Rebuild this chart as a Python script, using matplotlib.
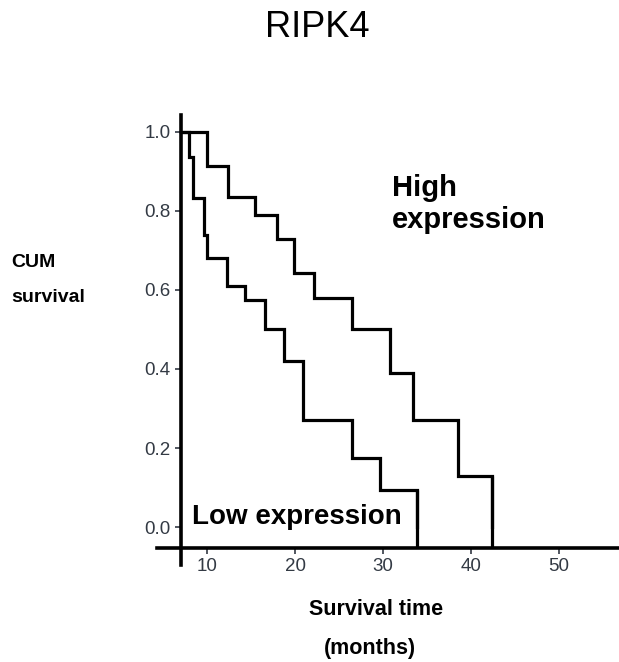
import matplotlib.pyplot as plt

plt.rcParams["font.family"] = ["Liberation Sans", "DejaVu Sans"]

# Kaplan-Meier steps
high_time = [7, 10, 12.4, 15.5, 18, 19.9, 22.2, 26.5, 30.8, 33.4, 38.5, 42.4]
high_surv = [1.0, 0.915, 0.835, 0.79, 0.73, 0.643, 0.58, 0.50, 0.39, 0.27, 0.13, 0.0]
low_time = [7, 8.0, 8.4, 9.7, 10, 12.3, 14.3, 16.6, 18.8, 20.9, 26.5, 29.7, 33.8]
low_surv = [1.0, 0.937, 0.834, 0.74, 0.68, 0.61, 0.575, 0.50, 0.42, 0.27, 0.175, 0.094, 0.0]

xticks = [10, 20, 30, 40, 50]
yticks = [0.0, 0.2, 0.4, 0.6, 0.8, 1.0]

fig = plt.figure(figsize=(6.19, 6.62), dpi=100)
ax = fig.add_axes([0.2536, 0.1465, 0.7464, 0.6798])

axis_y = -0.053
axis_x = 7

for t, s in [(high_time, high_surv), (low_time, low_surv)]:
    ax.step(t, s, where="post", color="black", lw=2.3, solid_joinstyle="miter")
    ax.vlines(t[-1], axis_y, s[-2], color="black", lw=2.3)

ax.set_xlim(4.32, 56.8)
ax.set_ylim(-0.0962, 1.043)

for side in ["top", "right"]:
    ax.spines[side].set_visible(False)
ax.spines["left"].set_position(("data", axis_x))
ax.spines["bottom"].set_position(("data", axis_y))
ax.spines["left"].set_linewidth(2.6)
ax.spines["bottom"].set_linewidth(2.6)

ax.set_xticks(xticks)
ax.set_yticks(yticks)
ax.set_yticklabels([f"{v:.1f}" for v in yticks])
ax.tick_params(axis="both", length=4, width=1.2, color="#333a44",
               labelsize=13.5, labelcolor="#333a44", pad=3)

ax.text(31.0, 0.818, "High\nexpression", fontsize=21, fontweight="bold",
        ha="left", va="center", linespacing=1.2)
ax.text(8.3, 0.026, "Low expression", fontsize=20, fontweight="bold",
        ha="left", va="center")

fig.text(0.512, 0.959, "RIPK4", fontsize=26, ha="center", va="center")
fig.text(0.018, 0.577, "CUM\nsurvival", fontsize=14, fontweight="bold",
         ha="left", va="center", linespacing=2.35)
fig.text(0.607, 0.079, "Survival time", fontsize=15.5, fontweight="bold",
         ha="center", va="center")
fig.text(0.598, 0.020, "(months)", fontsize=15.5, fontweight="bold",
         ha="center", va="center")

plt.savefig("out.png", dpi=100)
